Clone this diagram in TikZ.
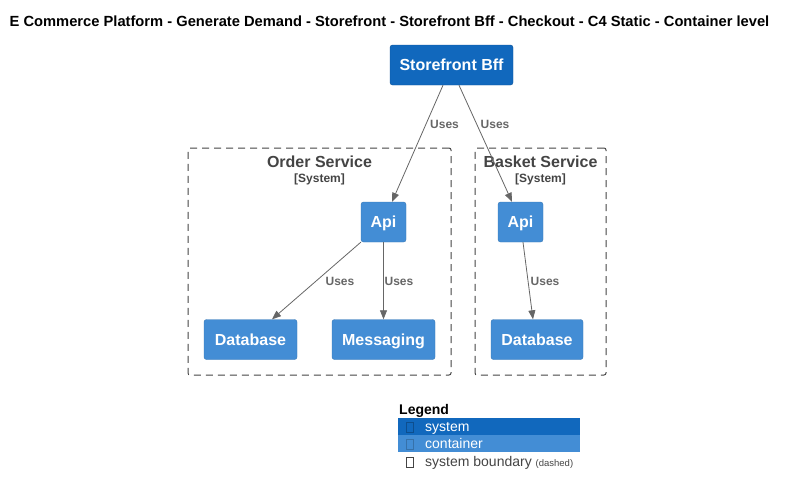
\documentclass[tikz,border=0pt]{standalone}
\usepackage{fontspec}
\setmainfont{Liberation Sans}
\usetikzlibrary{arrows.meta}

\definecolor{sysblue}{HTML}{1168BD}
\definecolor{contblue}{HTML}{438DD5}
\definecolor{edgegray}{HTML}{666666}
\definecolor{bndgray}{HTML}{444444}

\tikzset{
  system/.style={fill=sysblue, draw=sysblue!80!black, line width=0.4pt, rounded corners=2.5pt,
    text=white, font=\fontsize{16}{18}\selectfont\bfseries, inner sep=0pt, text height=11.6pt, text depth=0pt},
  container/.style={fill=contblue, draw=contblue!85!black, line width=0.4pt, rounded corners=2.5pt,
    text=white, font=\fontsize{16}{18}\selectfont\bfseries, inner sep=0pt, text height=11.6pt, text depth=0pt},
  boundary/.style={draw=bndgray, dash pattern=on 7pt off 5pt, line width=1pt, rounded corners=2pt},
  uses/.style={draw=edgegray, line width=0.8pt, -{Triangle[length=9pt,width=7pt]}},
  useslbl/.style={text=edgegray, font=\fontsize{12}{14}\selectfont\bfseries, inner sep=0pt},
  glyphbox/.style={draw=#1, line width=0.5pt, minimum width=7pt, minimum height=10pt, inner sep=0pt},
  lgtext/.style={anchor=base west, inner sep=0pt},
}

\begin{document}
\begin{tikzpicture}[x=1pt, y=-1pt]
    \useasboundingbox (0,0) rectangle (786,496);

    \node(title) at (389.5, 21) {\fontsize{14.7}{16}\selectfont\bfseries E Commerce Platform - Generate Demand - Storefront - Storefront Bff - Checkout - C4 Static - Container level};

    % boundaries
    \node(orderbnd) [boundary, minimum width=263pt, minimum height=227pt] at (319.5, 261.5) {};
    \node(basketbnd) [boundary, minimum width=131pt, minimum height=227pt] at (540.5, 261.5) {};
    \node(ordername) at (319.5, 161.5) {\fontsize{16}{18}\selectfont\bfseries\color{bndgray}Order Service};
    \node(ordertype) at (319.5, 179) {\fontsize{12}{14}\selectfont\bfseries\color{bndgray}[System]};
    \node(basketname) at (540.5, 161.5) {\fontsize{16}{18}\selectfont\bfseries\color{bndgray}Basket Service};
    \node(baskettype) at (540.5, 179) {\fontsize{12}{14}\selectfont\bfseries\color{bndgray}[System]};

    % elements
    \node(bff) [system, minimum width=123pt, minimum height=40pt] at (451.5, 65) {Storefront Bff};
    \node(orderapi) [container, minimum width=45pt, minimum height=40pt] at (383.5, 222) {Api};
    \node(basketapi) [container, minimum width=45pt, minimum height=40pt] at (520.5, 222) {Api};
    \node(orderdb) [container, minimum width=93pt, minimum height=40pt] at (250.5, 339.5) {Database};
    \node(messaging) [container, minimum width=103pt, minimum height=40pt] at (383.5, 339.5) {Messaging};
    \node(basketdb) [container, minimum width=92pt, minimum height=40pt] at (537, 339.5) {Database};

    % relations
    \draw[uses] ([xshift=-8.5pt]bff.south) -- ([xshift=8.5pt]orderapi.north);
    \draw[uses] ([xshift=7.5pt]bff.south) -- ([xshift=-8.5pt]basketapi.north);
    \draw[uses] (orderapi.south west) -- ([xshift=21.5pt]orderdb.north);
    \draw[uses] (orderapi.south) -- (messaging.north);
    \draw[uses] ([xshift=2.5pt]basketapi.south) -- ([xshift=-4pt]basketdb.north);

    \node(u1) [useslbl] at (444.5, 124.5) {Uses};
    \node(u2) [useslbl] at (495, 124.5) {Uses};
    \node(u3) [useslbl] at (340, 281.5) {Uses};
    \node(u4) [useslbl] at (399, 281.5) {Uses};
    \node(u5) [useslbl] at (545, 281.5) {Uses};

    % legend
    \node(legend) [lgtext] at (399, 414) {\fontsize{14}{16}\selectfont\bfseries Legend};
    \node(lgsys) [fill=sysblue, minimum width=182pt, minimum height=17pt, inner sep=0pt] at (489, 426.5) {};
    \node(lgcont) [fill=contblue, minimum width=182pt, minimum height=17pt, inner sep=0pt] at (489, 443.5) {};
    \node(lgsysbox) [glyphbox=sysblue!75!black] at (409.5, 427.5) {};
    \node(lgcontbox) [glyphbox=contblue!80!black] at (409.5, 444.5) {};
    \node(lgbndbox) [glyphbox=bndgray] at (409.5, 462) {};
    \node(lgsystxt) [lgtext, text=white] at (425, 431) {\fontsize{14}{16}\selectfont system};
    \node(lgconttxt) [lgtext, text=white] at (425, 448) {\fontsize{14}{16}\selectfont container};
    \node(lgbndtxt) [lgtext, text=bndgray] at (425, 466) {\fontsize{14}{16}\selectfont system boundary {\fontsize{9.5}{10}\selectfont(dashed)}};
\end{tikzpicture}
\end{document}
